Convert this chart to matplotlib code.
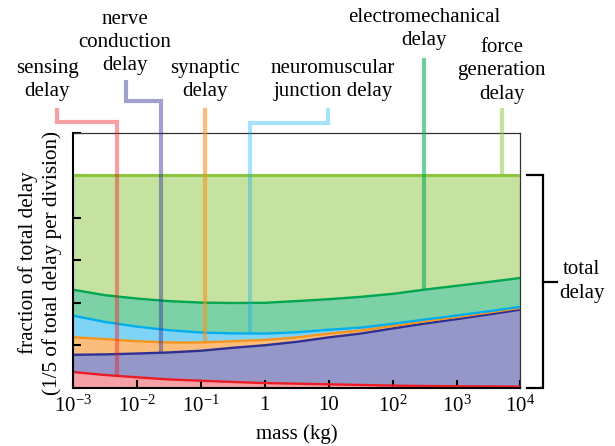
import numpy as np
import matplotlib
matplotlib.use("Agg")
import matplotlib.pyplot as plt
import matplotlib.transforms as mtransforms

plt.rcParams['font.family'] = ['Liberation Serif', 'DejaVu Serif']
plt.rcParams['mathtext.fontset'] = 'custom'
plt.rcParams['mathtext.rm'] = 'Liberation Serif'
plt.rcParams['mathtext.it'] = 'Liberation Serif:italic'
plt.rcParams['mathtext.bf'] = 'Liberation Serif:bold'

# ---------------- data ----------------
mass = [1e-3, 3.16e-3, 1e-2, 3.16e-2, 1e-1, 3.16e-1, 1.0, 3.16, 10.0,
        31.6, 100.0, 316.0, 1000.0, 3160.0, 10000.0]
sensing = [0.074, 0.060, 0.049, 0.039, 0.033, 0.027, 0.022, 0.019, 0.016,
           0.013, 0.010, 0.008, 0.007, 0.006, 0.005]
nerve = [0.081, 0.097, 0.112, 0.127, 0.141, 0.161, 0.178, 0.197, 0.221,
         0.242, 0.269, 0.294, 0.316, 0.339, 0.363]
synaptic = [0.083, 0.072, 0.058, 0.047, 0.039, 0.031, 0.025, 0.021, 0.018,
            0.015, 0.012, 0.011, 0.010, 0.009, 0.008]
nmj = [0.102, 0.081, 0.069, 0.058, 0.047, 0.037, 0.030, 0.024, 0.018,
       0.013, 0.010, 0.008, 0.007, 0.006, 0.005]
electromech = [0.122, 0.126, 0.132, 0.137, 0.141, 0.143, 0.145, 0.147, 0.144,
               0.145, 0.141, 0.141, 0.140, 0.138, 0.136]
force = [0.538, 0.564, 0.580, 0.592, 0.599, 0.601, 0.600, 0.592, 0.583,
         0.572, 0.558, 0.538, 0.520, 0.502, 0.483]

xticks = [1e-3, 1e-2, 1e-1, 1, 10, 1e2, 1e3, 1e4]
xticklabels = ['$10^{-3}$', '$10^{-2}$', '$10^{-1}$', '1', '10',
               '$10^{2}$', '$10^{3}$', '$10^{4}$']

labels = ['sensing\ndelay', 'nerve\nconduction\ndelay', 'synaptic\ndelay',
          'neuromuscular\njunction delay', 'electromechanical\ndelay',
          'force\ngeneration\ndelay']

# connector geometry: (vertical x in mass, jog top x, top y, jog y), text pos
conn_x = [4.9e-3, 2.4e-2, 0.117, 0.59, 309.0, 5100.0]
conn_top_x = [5.7e-4, 6.8e-3, 0.117, 9.8, 309.0, 5100.0]
conn_top_y = [1.32, 1.451, 1.32, 1.32, 1.555, 1.32]
conn_jog_y = [1.254, 1.353, None, 1.249, None, None]
text_x = [3.98e-4, 6.6e-3, 0.117, 11.7, 309.0, 5100.0]
text_y = [1.449, 1.625, 1.449, 1.449, 1.689, 1.493]

fill_colors = ['#f5a0a6', '#9597c8', '#fbbd7c', '#7fd3f5', '#7dd1a6', '#c6e2a0']
line_colors = ['#ed1c24', '#2e3192', '#f7941d', '#00aeef', '#00a651', '#8cc63f']
conn_alpha = [0.42, 0.45, 0.6, 0.35, 0.55, 0.5]

# ---------------- figure ----------------
fig = plt.figure(figsize=(6.15, 4.46), dpi=100)
ax = fig.add_axes([0.1182, 0.1307, 0.7281, 0.5711])

layers = [sensing, nerve, synaptic, nmj, electromech, force]
cum = np.cumsum(np.array(layers), axis=0)
ax.stackplot(mass, *layers, colors=fill_colors, linewidth=0, zorder=1)
for i in range(6):
    ax.plot(mass, cum[i], color=line_colors[i], lw=1.7 if i < 5 else 2.2,
            zorder=3, solid_capstyle='butt')

ax.set_xscale('log')
ax.set_xlim(1e-3, 1e4)
ax.set_ylim(0, 1.2)
ax.set_xticks(xticks)
ax.set_xticklabels(xticklabels)
ax.minorticks_off()
ax.set_yticks([0, 0.2, 0.4, 0.6, 0.8, 1.0, 1.2])
ax.set_yticklabels([])
ax.tick_params(direction='in', length=6, width=1.5, labelsize=15, pad=6)
for s in ['left', 'bottom']:
    ax.spines[s].set_linewidth(1.5)
    ax.spines[s].set_zorder(5)
for s in ['top', 'right']:
    ax.spines[s].set_linewidth(0.9)
    ax.spines[s].set_color('#333333')
ax.set_xlabel('mass (kg)', fontsize=15, labelpad=5)

fig.text(40 / 615, 1 - 263 / 446,
         'fraction of total delay\n(1/5 of total delay per division)',
         rotation=90, ha='center', va='center', fontsize=15.2,
         multialignment='center', linespacing=1.25)

# connectors
for i in range(6):
    xv = conn_x[i]
    yend = np.interp(np.log10(xv), np.log10(mass), cum[i])
    if conn_jog_y[i] is not None:
        xs = [conn_top_x[i], conn_top_x[i], xv, xv]
        ys = [conn_top_y[i], conn_jog_y[i], conn_jog_y[i], yend]
    else:
        xs = [xv, xv]
        ys = [conn_top_y[i], yend]
    ax.plot(xs, ys, color=line_colors[i], alpha=conn_alpha[i], lw=3.0,
            clip_on=False, zorder=4, solid_joinstyle='miter',
            solid_capstyle='butt')
    ax.text(text_x[i], text_y[i], labels[i], ha='center', va='center',
            fontsize=15, linespacing=1.3, clip_on=False)

# bracket for total delay
tr = mtransforms.blended_transform_factory(ax.transAxes, ax.transData)
ax.plot([1.0148, 1.050, 1.050, 1.0148], [1.0, 1.0, 0.0, 0.0], color='black',
        lw=1.6, transform=tr, clip_on=False, solid_joinstyle='miter')
ax.plot([1.050, 1.0818], [0.5, 0.5], color='black', lw=1.6, transform=tr,
        clip_on=False)
ax.text(1.137, 0.5, 'total\ndelay', transform=tr, ha='center', va='center',
        fontsize=15, linespacing=1.3)

fig.savefig('out.png', dpi=100)
